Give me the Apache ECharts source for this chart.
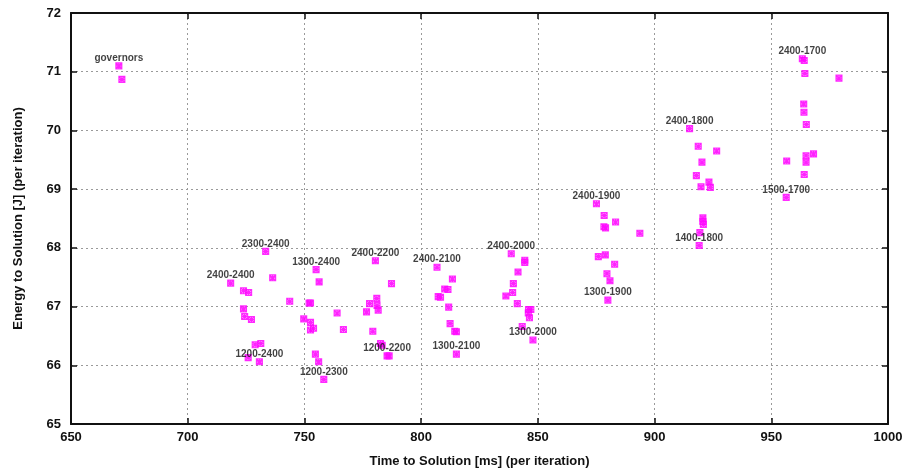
<!DOCTYPE html>
<html>
<head>
<meta charset="utf-8">
<script src="https://cdn.jsdelivr.net/npm/echarts@6/dist/echarts.min.js"></script>
<style>
  html, body { margin: 0; padding: 0; background: #fff; }
  #chart { width: 909px; height: 470px; }
</style>
</head>
<body>
<div id="chart"></div>
<script>
// Time to solution [ms] vs energy to solution [J], one array per frequency setting.
// The first point of each array carries the setting's label.
const governors   = [[670.5, 71.10], [671.8, 70.87]];
const cfg2400_2400 = [[718.4, 67.40], [723.9, 67.27], [726.1, 67.24], [723.9, 66.96], [724.4, 66.83], [727.3, 66.78]];
const cfg2300_2400 = [[733.4, 67.94], [736.4, 67.49], [743.7, 67.09]];
const cfg1200_2400 = [[730.7, 66.06], [725.9, 66.13], [728.9, 66.35], [731.3, 66.37]];
const cfg1300_2400 = [[755.0, 67.63], [756.3, 67.42], [752.0, 67.06], [752.6, 67.06], [749.7, 66.79], [752.6, 66.73], [752.6, 66.60], [753.9, 66.63]];
const cfg1200_2300 = [[758.3, 65.76], [754.7, 66.19], [756.1, 66.06]];
const cfg2400_2200 = [[780.4, 67.78], [787.3, 67.39], [781.0, 67.14], [777.9, 67.05], [781.1, 67.02], [776.6, 66.91], [781.6, 66.94], [764.0, 66.89], [766.7, 66.61], [779.3, 66.58]];
const cfg1200_2200 = [[785.4, 66.16], [786.3, 66.16], [782.6, 66.37], [783.3, 66.34]];
const cfg2400_2100 = [[806.8, 67.67], [813.4, 67.47], [810.1, 67.30], [811.5, 67.29], [807.3, 67.17], [808.3, 67.16], [811.8, 66.99]];
const cfg1300_2100 = [[815.1, 66.19], [812.4, 66.71], [814.4, 66.58], [815.1, 66.57]];
const cfg2400_2000 = [[838.6, 67.90], [844.4, 67.79], [844.4, 67.75], [841.5, 67.59], [839.5, 67.39], [839.2, 67.24], [836.3, 67.18], [841.2, 67.05]];
const cfg1300_2000 = [[847.9, 66.43], [846.0, 66.95], [847.0, 66.95], [845.9, 66.89], [846.4, 66.81], [843.3, 66.66]];
const cfg2400_1900 = [[875.1, 68.75], [878.4, 68.55], [883.3, 68.44], [878.3, 68.36], [879.0, 68.34], [893.7, 68.25]];
const cfg1300_1900 = [[880.0, 67.11], [875.9, 67.85], [878.9, 67.88], [882.9, 67.72], [879.6, 67.56], [880.9, 67.44]];
const cfg2400_1800 = [[915.0, 70.03], [918.7, 69.73], [926.6, 69.65], [920.3, 69.46], [917.9, 69.23], [923.3, 69.12], [923.9, 69.03], [919.9, 69.04]];
const cfg1400_1800 = [[919.1, 68.04], [920.7, 68.51], [920.7, 68.45], [920.9, 68.40], [919.4, 68.26]];
const cfg2400_1700 = [[963.3, 71.22], [964.1, 71.19], [964.4, 70.97], [979.0, 70.89], [963.9, 70.45], [964.0, 70.31], [965.0, 70.10]];
const cfg1500_1700 = [[956.4, 68.86], [956.6, 69.48], [964.9, 69.57], [968.1, 69.60], [964.9, 69.46], [964.1, 69.25]];

const settings = [
  ['governors', governors],
  ['2400-2400', cfg2400_2400],
  ['2300-2400', cfg2300_2400],
  ['1200-2400', cfg1200_2400],
  ['1300-2400', cfg1300_2400],
  ['1200-2300', cfg1200_2300],
  ['2400-2200', cfg2400_2200],
  ['1200-2200', cfg1200_2200],
  ['2400-2100', cfg2400_2100],
  ['1300-2100', cfg1300_2100],
  ['2400-2000', cfg2400_2000],
  ['1300-2000', cfg1300_2000],
  ['2400-1900', cfg2400_1900],
  ['1300-1900', cfg1300_1900],
  ['2400-1800', cfg2400_1800],
  ['1400-1800', cfg1400_1800],
  ['2400-1700', cfg2400_1700],
  ['1500-1700', cfg1500_1700]
];

const xTicks = { min: 650, max: 1000, interval: 50 };
const yTicks = { min: 65, max: 72, interval: 1 };

// asterisk marker: plus and cross overlaid on a small box
const asterisk = 'path://M0,0L10,10M10,0L0,10M5,0L5,10M0,5L10,5M0,0L10,0L10,10L0,10Z';
const font = 'Liberation Sans, Arial, Helvetica, sans-serif';

const series = settings.map(([name, pts]) => ({
  type: 'scatter',
  name: name,
  symbol: asterisk,
  symbolSize: 6,
  itemStyle: { color: 'rgba(255,60,255,0.55)', borderColor: '#ff00ff', borderWidth: 1.1 },
  emphasis: { disabled: true },
  data: pts.map((p, i) => i === 0 ? {
    value: p,
    label: {
      show: true, position: 'top', distance: -1,
      formatter: name, color: '#111', fontFamily: font,
      fontSize: 10, fontWeight: 'bold'
    }
  } : { value: p })
}));

const gridLine = { show: true, lineStyle: { color: '#9a9a9a', type: [2, 3], width: 1 } };
const labelStyle = { fontFamily: font, fontSize: 13, fontWeight: 'bold', color: '#111' };

const axisBase = {
  type: 'value',
  axisLine: { show: true, onZero: false, lineStyle: { color: '#111', width: 2 } },
  axisTick: { show: true, inside: true, length: 6, lineStyle: { color: '#111', width: 1.5 } },
  splitLine: { show: false }
};

const chart = echarts.init(document.getElementById('chart'), null, { renderer: 'canvas' });
chart.setOption({
  animation: false,
  backgroundColor: '#fff',
  grid: { left: 71, right: 21, top: 13, bottom: 46, outerBoundsMode: 'none', containLabel: false },
  xAxis: [
    Object.assign({}, axisBase, {
      position: 'bottom', min: xTicks.min, max: xTicks.max, interval: xTicks.interval,
      name: 'Time to Solution [ms] (per iteration)',
      nameLocation: 'middle', nameGap: 31,
      nameTextStyle: labelStyle,
      axisLabel: Object.assign({}, labelStyle, { margin: 7, formatter: v => String(v) }),
      splitLine: gridLine
    }),
    Object.assign({}, axisBase, {
      position: 'top', min: xTicks.min, max: xTicks.max, interval: xTicks.interval,
      axisLabel: { show: false }
    })
  ],
  yAxis: [
    Object.assign({}, axisBase, {
      position: 'left', min: yTicks.min, max: yTicks.max, interval: yTicks.interval,
      name: 'Energy to Solution [J] (per iteration)',
      nameLocation: 'middle', nameGap: 46, nameRotate: 90,
      nameTextStyle: labelStyle,
      axisLabel: Object.assign({}, labelStyle, { margin: 10 }),
      splitLine: gridLine
    }),
    Object.assign({}, axisBase, {
      position: 'right', min: yTicks.min, max: yTicks.max, interval: yTicks.interval,
      axisLabel: { show: false }
    })
  ],
  series: series
});
</script>
</body>
</html>
